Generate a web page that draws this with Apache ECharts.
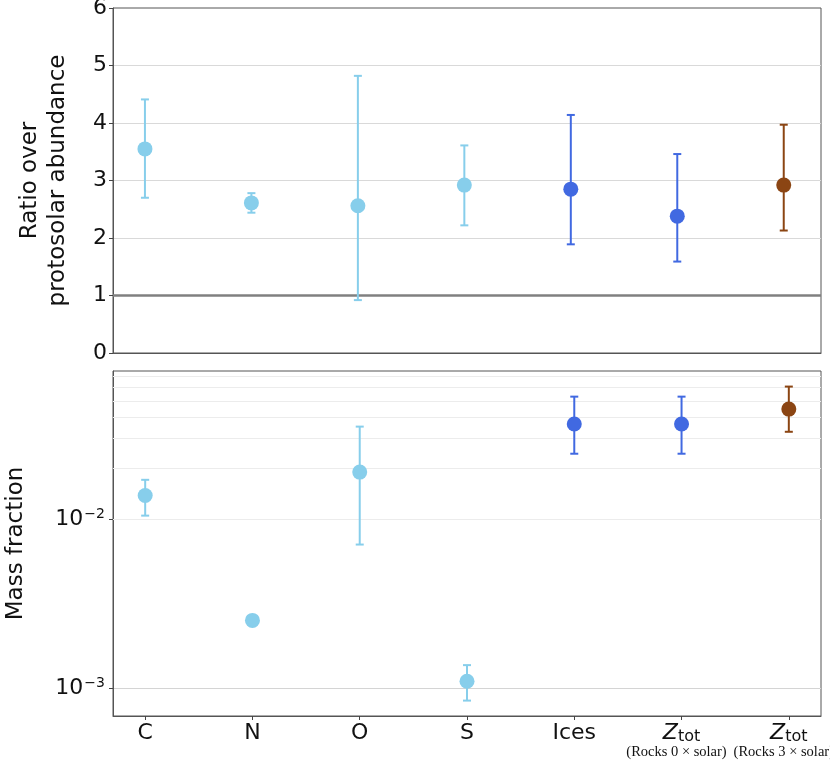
<!DOCTYPE html>
<html>
<head>
<meta charset="utf-8">
<script src="https://cdn.jsdelivr.net/npm/echarts@6/dist/echarts.min.js"></script>
<style>
  html, body { margin: 0; padding: 0; background: #fff; }
  #chart { width: 830px; height: 760px; }
</style>
</head>
<body>
<div id="chart"></div>
<script>
// categories along x (shared by both panels)
var categories = ['C', 'N', 'O', 'S', 'Ices', 'Ztot', 'Ztot'];
var categoryNotes = ['', '', '', '', '', '(Rocks 0 × solar)', '(Rocks 3 × solar)'];
var groups = ['elem', 'elem', 'elem', 'elem', 'ices', 'ices', 'rocks'];

// top panel: ratio over protosolar abundance
var ratio     = [3.55, 2.61, 2.56, 2.92, 2.85, 2.38, 2.92];
var ratioLow  = [2.70, 2.44, 0.92, 2.22, 1.89, 1.59, 2.13];
var ratioHigh = [4.41, 2.78, 4.82, 3.61, 4.14, 3.46, 3.97];
var ratioRef = 1;

// bottom panel: mass fraction (log)
var mass     = [0.0138, 0.00252, 0.0190, 0.00110, 0.0366, 0.0366, 0.0448];
var massLow  = [0.0105, 0.00236, 0.00708, 0.000845, 0.0244, 0.0244, 0.0329];
var massHigh = [0.0171, 0.00268, 0.0353, 0.00137, 0.0531, 0.0531, 0.0609];
var massRange = [0.000685, 0.0753];
var massMinor = [0.0007, 0.0008, 0.0009,
                 0.002, 0.003, 0.004, 0.005, 0.006, 0.007, 0.008, 0.009,
                 0.02, 0.03, 0.04, 0.05, 0.06, 0.07];

var groupColors = { elem: '#87ceeb', ices: '#4169e1', rocks: '#8b4513' };
var FONT = 'DejaVu Sans';

var xIdx = categories.map(function (c, i) { return i; });
var noteIdx = xIdx.filter(function (i) { return categoryNotes[i] !== ''; });

function renderBar(params, api) {
    var x = api.value(0);
    var lo = api.coord([x, api.value(1)]);
    var hi = api.coord([x, api.value(2)]);
    var half = 4;
    var style = { stroke: api.visual('color'), lineWidth: 2 };
    return {
        type: 'group',
        children: [
            { type: 'line', shape: { x1: lo[0], y1: lo[1], x2: hi[0], y2: hi[1] }, style: style },
            { type: 'line', shape: { x1: lo[0] - half, y1: lo[1], x2: lo[0] + half, y2: lo[1] }, style: style },
            { type: 'line', shape: { x1: hi[0] - half, y1: hi[1], x2: hi[0] + half, y2: hi[1] }, style: style }
        ]
    };
}

var series = [];
var groupNames = ['elem', 'ices', 'rocks'];
groupNames.forEach(function (g) {
    var barsTop = [], ptsTop = [], barsBot = [], ptsBot = [];
    for (var i = 0; i < categories.length; i++) {
        if (groups[i] !== g) continue;
        barsTop.push([i, ratioLow[i], ratioHigh[i]]);
        ptsTop.push([i, ratio[i]]);
        barsBot.push([i, massLow[i], massHigh[i]]);
        ptsBot.push([i, mass[i]]);
    }
    var col = groupColors[g];
    series.push({
        type: 'custom', xAxisIndex: 0, yAxisIndex: 0, renderItem: renderBar,
        encode: { x: 0, y: [1, 2] }, data: barsTop, itemStyle: { color: col }, z: 3, silent: true
    });
    series.push({
        type: 'scatter', xAxisIndex: 0, yAxisIndex: 0, data: ptsTop, symbolSize: 15,
        itemStyle: { color: col, opacity: 1 }, z: 4, silent: true
    });
    series.push({
        type: 'custom', xAxisIndex: 1, yAxisIndex: 1, renderItem: renderBar,
        encode: { x: 0, y: [1, 2] }, data: barsBot, itemStyle: { color: col }, z: 3, silent: true
    });
    series.push({
        type: 'scatter', xAxisIndex: 1, yAxisIndex: 1, data: ptsBot, symbolSize: 15,
        itemStyle: { color: col, opacity: 1 }, z: 4, silent: true
    });
});

// reference line at 1 (top) and minor log grid (bottom)
series.push({
    type: 'line', xAxisIndex: 0, yAxisIndex: 0, data: [], silent: true,
    markLine: {
        silent: true, symbol: 'none', z: 2, label: { show: false },
        lineStyle: { color: '#808080', width: 2.5, type: 'solid' },
        data: [{ yAxis: ratioRef }]
    }
});
series.push({
    type: 'line', xAxisIndex: 1, yAxisIndex: 1, data: [], silent: true,
    markLine: {
        silent: true, symbol: 'none', z: 1, label: { show: false }, animation: false,
        lineStyle: { color: '#ececec', width: 1, type: 'solid' },
        data: massMinor.map(function (v) { return { yAxis: v }; })
    }
});

var axisLineStyle = { color: '#555', width: 1 };

var chart = echarts.init(document.getElementById('chart'));
chart.setOption({
    animation: false,
    textStyle: { fontFamily: FONT },
    grid: [
        { left: 113, right: 9, top: 8, height: 345, show: true, borderColor: '#555', borderWidth: 1,
          containLabel: false, outerBoundsMode: 'none' },
        { left: 113, right: 9, top: 371, height: 345, show: true, borderColor: '#555', borderWidth: 1,
          containLabel: false, outerBoundsMode: 'none' }
    ],
    xAxis: [
        {
            type: 'value', gridIndex: 0, min: -0.3, max: 6.35,
            axisLine: { show: true, onZero: false, lineStyle: axisLineStyle }, axisTick: { show: false },
            axisLabel: { show: false }, splitLine: { show: false }
        },
        {
            type: 'value', gridIndex: 1, min: -0.3, max: 6.3,
            axisLine: { show: true, onZero: false, lineStyle: axisLineStyle },
            axisTick: { show: true, customValues: xIdx, length: 4, lineStyle: { color: '#444' } },
            splitLine: { show: false },
            axisLabel: {
                customValues: xIdx, margin: 6, color: '#111', fontSize: 22, fontFamily: FONT,
                showMinLabel: true, showMaxLabel: true,
                formatter: function (v) {
                    var i = Math.round(v);
                    if (categories[i] === 'Ztot') return '{z|Z}{sub|tot}';
                    return categories[i];
                },
                rich: {
                    z: { fontSize: 22, fontStyle: 'italic', fontFamily: FONT, color: '#111', lineHeight: 22 },
                    sub: { fontSize: 16, fontFamily: FONT, color: '#111', lineHeight: 22, padding: [8, 0, 0, 0] }
                }
            }
        },
        {
            // second label row: the rock notes under Z_tot
            type: 'value', gridIndex: 1, position: 'bottom', min: -0.253, max: 6.347,
            axisLine: { show: false, onZero: false }, axisTick: { show: false }, splitLine: { show: false },
            axisLabel: {
                customValues: noteIdx, margin: 28, color: '#111', fontSize: 14.5, lineHeight: 16,
                fontFamily: 'Liberation Serif', showMinLabel: true, showMaxLabel: true,
                formatter: function (v) { return categoryNotes[Math.round(v)]; }
            }
        }
    ],
    yAxis: [
        {
            type: 'value', gridIndex: 0, min: 0, max: 6, interval: 1,
            name: 'Ratio over\nprotosolar abundance', nameLocation: 'middle', nameRotate: 90, nameGap: 41,
            nameTextStyle: { fontSize: 23, lineHeight: 28, color: '#111', fontFamily: FONT },
            axisLine: { show: true, onZero: false, lineStyle: axisLineStyle },
            axisTick: { show: true, length: 4, lineStyle: { color: '#444' } },
            axisLabel: { fontSize: 22, color: '#111', margin: 6, fontFamily: FONT },
            splitLine: { show: true, showMinLine: false, showMaxLine: false, lineStyle: { color: '#d9d9d9', width: 1.2 } }
        },
        {
            type: 'log', logBase: 10, gridIndex: 1, min: massRange[0], max: massRange[1],
            name: 'Mass fraction', nameLocation: 'middle', nameRotate: 90, nameGap: 83,
            nameTextStyle: { fontSize: 23, lineHeight: 28, color: '#111', fontFamily: FONT },
            axisLine: { show: true, onZero: false, lineStyle: axisLineStyle },
            axisTick: { show: true, length: 4, lineStyle: { color: '#444' } },
            axisLabel: {
                fontSize: 22, color: '#111', margin: 8, fontFamily: FONT,
                showMinLabel: false, showMaxLabel: false,
                formatter: function (v) {
                    var e = Math.round(Math.log(v) / Math.LN10);
                    return '{b|10}{sup|\u2212' + (-e) + '}';
                },
                rich: {
                    b: { fontSize: 22, color: '#111', fontFamily: FONT },
                    sup: { fontSize: 14, color: '#111', fontFamily: FONT, padding: [0, 0, 10, 1] }
                }
            },
            splitLine: { show: true, showMinLine: false, showMaxLine: false, lineStyle: { color: '#d4d4d4', width: 1.2 } }
        }
    ],
    series: series
});
window.addEventListener('resize', chart.resize);
</script>
</body>
</html>
